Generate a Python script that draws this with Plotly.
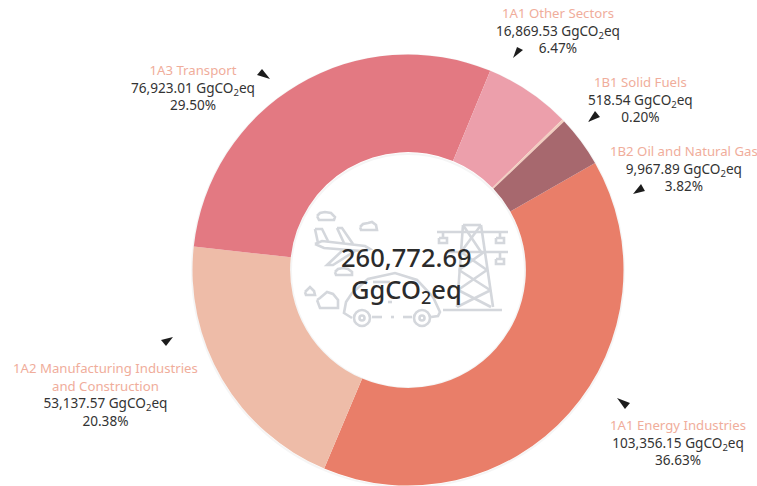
import plotly.graph_objects as go

W, H = 757, 486

categories = ["1A1 Energy Industries", "1A2 Manufacturing Industries<br>and Construction",
              "1A3 Transport", "1A1 Other Sectors", "1B1 Solid Fuels", "1B2 Oil and Natural Gas"]
values = [103356.15, 53137.57, 76923.01, 16869.53, 518.54, 9967.89]
value_labels = ["103,356.15", "53,137.57", "76,923.01", "16,869.53", "518.54", "9,967.89"]
percent_labels = ["36.63%", "20.38%", "29.50%", "6.47%", "0.20%", "3.82%"]
colors = ["#e97e69", "#eebca8", "#e37982", "#ec9fab", "#f2cdbf", "#a7686e"]
total_label = "260,772.69"
label_centres = [(678, 442), (105, 394), (193, 87), (558, 30), (640, 99), (684, 168)]

FONT = "Noto Sans"
CX, CY, R = 408, 270, 215.5


def px(x):
    return x / W


def py(y):
    return 1 - y / H


def path(points, close=False):
    return "M " + " L ".join(f"{px(x):.4f},{py(y):.4f}" for x, y in points) + (" Z" if close else "")


fig = go.Figure(go.Pie(
    labels=categories, values=values, hole=0.547, sort=False, direction="clockwise",
    rotation=60.2, marker=dict(colors=colors, line=dict(width=0)), textinfo="none",
    showlegend=False, hoverinfo="label+value",
    domain=dict(x=[px(CX - R), px(CX + R)], y=[py(CY + R), py(CY - R)]),
))

centre_font = dict(family=FONT, size=25.5, color="#2b2b2b", weight=500)
annotations = [
    dict(x=px(406.5), y=py(257), xref="paper", yref="paper", showarrow=False,
         xanchor="center", yanchor="middle", text=total_label, font=centre_font),
    dict(x=px(406.5), y=py(290), xref="paper", yref="paper", showarrow=False,
         xanchor="center", yanchor="middle", text="GgCO<sub>2</sub>eq", font=centre_font),
]
for cat, val, pct, (x, y) in zip(categories, value_labels, percent_labels, label_centres):
    title = "<br>".join(f"<span style='color:#f0ad9b;font-size:13.2px'>{part}</span>" for part in cat.split("<br>"))
    annotations.append(dict(
        x=px(x), y=py(y), xref="paper", yref="paper", showarrow=False, align="center",
        xanchor="center", yanchor="middle",
        text=f"{title}<br>{val} GgCO<sub>2</sub>eq<br>{pct}",
        font=dict(family=FONT, size=13.6, color="#333333"),
    ))

arrowheads = [
    [(513, 58), (523, 50), (517, 47)],
    [(588, 122), (600, 117), (595, 111)],
    [(633, 194), (645, 191), (641, 184)],
    [(173, 337), (161, 340), (166, 346)],
    [(270, 79), (257, 75), (262, 69)],
    [(617, 398), (630, 403), (625, 409)],
]
shapes = [dict(type="path", xref="paper", yref="paper", path=path(a, True),
               fillcolor="#1c1c1c", line=dict(width=0)) for a in arrowheads]

# soft edge round the ring
for r in (216, 117):
    shapes.append(dict(type="circle", xref="paper", yref="paper", layer="below",
                       x0=px(CX - r), x1=px(CX + r), y0=py(CY + r + 1), y1=py(CY - r + 1),
                       line=dict(color="rgba(0,0,0,0.04)", width=2), fillcolor="rgba(0,0,0,0)"))

GREY = "#d4d7dc"
icon_lines = [
    # tower
    [(437, 232), (508, 232)], [(447, 252), (508, 252)], [(463, 225), (481, 225)],
    [(463, 225), (457, 307)], [(481, 225), (493, 307)], [(443, 310), (502, 310)],
    [(463, 225), (481, 252)], [(481, 225), (461, 252)], [(461, 252), (487, 270)],
    [(484, 252), (459, 270)], [(459, 270), (490, 290)], [(487, 270), (458, 290)],
    [(458, 290), (491, 307)], [(491, 290), (457, 307)],
    [(443, 232), (443, 239)], [(500, 232), (500, 239)], [(500, 252), (500, 259)],
    [(439, 238), (447, 238), (447, 243), (439, 243), (439, 238)],
    [(496, 238), (504, 238), (504, 243), (496, 243), (496, 238)],
    [(496, 259), (504, 259), (504, 264), (496, 264), (496, 259)],
    # aeroplane
    [(315, 244), (322, 241), (365, 246), (370, 249), (362, 251), (324, 248), (315, 244)],
    [(315, 229), (322, 229), (328, 241)], [(315, 229), (318, 243)],
    [(337, 228), (342, 228), (353, 244)], [(337, 228), (344, 243)],
    [(355, 251), (333, 265), (327, 265), (343, 250)],
    # car
    [(352, 318), (344, 313), (346, 302), (352, 293), (368, 279), (395, 273), (417, 280),
     (433, 297), (440, 312), (438, 316), (431, 317)],
    [(412, 317), (403, 317)], [(394, 317), (391, 317)], [(382, 317), (372, 317)],
    [(373, 282), (390, 282)], [(388, 302), (392, 302)],
    # clouds
    [(317, 216), (320, 213), (325, 212), (331, 213), (335, 217), (334, 220), (319, 220), (317, 216)],
    [(360, 227), (363, 224), (368, 223), (372, 222), (376, 225), (377, 230), (361, 230), (360, 227)],
    [(335, 272), (338, 269), (343, 268), (348, 269), (352, 272), (352, 275), (336, 275), (335, 272)],
    [(317, 300), (320, 298), (327, 292), (333, 294), (338, 300), (338, 308), (320, 308), (317, 300)],
    [(305, 292), (310, 287), (314, 291), (315, 295), (306, 295), (305, 292)],
]
for seg in icon_lines:
    shapes.append(dict(type="path", xref="paper", yref="paper", path=path(seg),
                       line=dict(color=GREY, width=2.6), layer="above"))
for wx in (362, 422):
    for r in (8, 2.5):
        shapes.append(dict(type="circle", xref="paper", yref="paper",
                           x0=px(wx - r), x1=px(wx + r), y0=py(318 + r), y1=py(318 - r),
                           line=dict(color=GREY, width=2.6), fillcolor="rgba(0,0,0,0)"))

fig.update_layout(width=W, height=H, margin=dict(l=0, r=0, t=0, b=0), autosize=False,
                  paper_bgcolor="white", plot_bgcolor="white",
                  annotations=annotations, shapes=shapes, font=dict(family=FONT))
fig.write_html("out.html", config=dict(displayModeBar=False),
               post_script="document.body.style.margin='0';document.documentElement.style.overflow='hidden';")
